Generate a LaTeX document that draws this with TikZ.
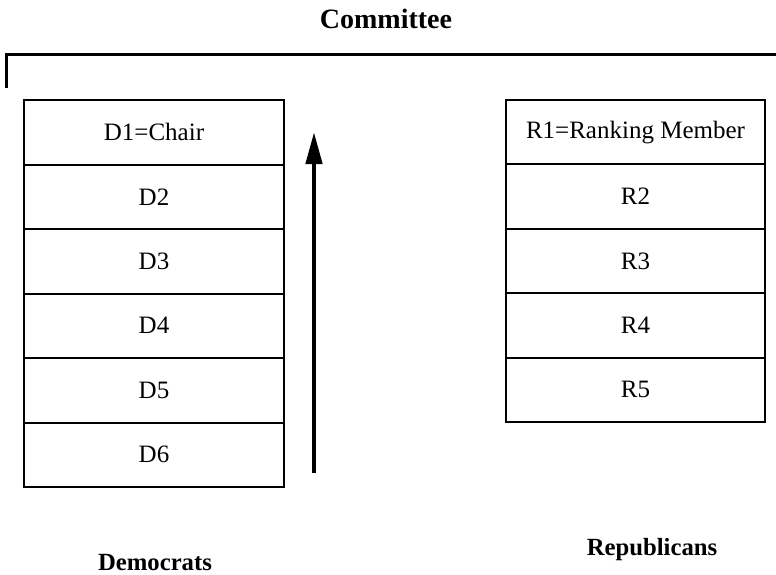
\documentclass[tikz,border=0pt]{standalone}
\usepackage{fontspec}
\setmainfont{Liberation Serif}
\usetikzlibrary{arrows.meta}
\begin{document}
\begin{tikzpicture}[x=1pt,y=-1pt,
  cell/.style={draw, line width=2pt, minimum width=260pt, minimum height=64.5pt,
    inner sep=0pt, outer sep=0pt, font=\fontsize{25}{30}\selectfont},
  rcell/.style={cell, minimum width=259pt, minimum height=64.4pt},
  heading/.style={font=\fontsize{28}{33}\selectfont\bfseries, inner sep=0pt},
  group/.style={font=\fontsize{24.7}{29}\selectfont\bfseries, inner sep=0pt},
  bracket/.style={line width=3pt},
  rank/.style={line width=4.5pt, -{Triangle[length=32pt,width=16pt]}}]
\useasboundingbox (0,0) rectangle (776,574);
% title and bracket
\node[heading] (title) at (386,19) {Committee};
\coordinate (bl) at (6.5,88);
\coordinate (tl) at (6.5,54);
\coordinate (tr) at (776,54);
\draw[bracket] (bl) -- (tl) -- (tr);
% Democrats
\node[cell, anchor=north west] (d1) at (24,100) {D1=Chair};
\node[cell, anchor=north] (d2) at (d1.south) {D2};
\node[cell, anchor=north] (d3) at (d2.south) {D3};
\node[cell, anchor=north] (d4) at (d3.south) {D4};
\node[cell, anchor=north] (d5) at (d4.south) {D5};
\node[cell, anchor=north] (d6) at (d5.south) {D6};
% Republicans
\node[rcell, anchor=north west] (r1) at (506,100) {R1=Ranking Member};
\node[rcell, anchor=north] (r2) at (r1.south) {R2};
\node[rcell, anchor=north] (r3) at (r2.south) {R3};
\node[rcell, anchor=north] (r4) at (r3.south) {R4};
\node[rcell, anchor=north] (r5) at (r4.south) {R5};
% seniority arrow
\coordinate (abot) at (314,473);
\coordinate (atop) at (314,132);
\draw[rank] (abot) -- (atop);
% group labels
\node[group, anchor=base] (dem) at (155,570) {Democrats};
\node[group, anchor=base] (rep) at (652,555) {Republicans};
\end{tikzpicture}
\end{document}
